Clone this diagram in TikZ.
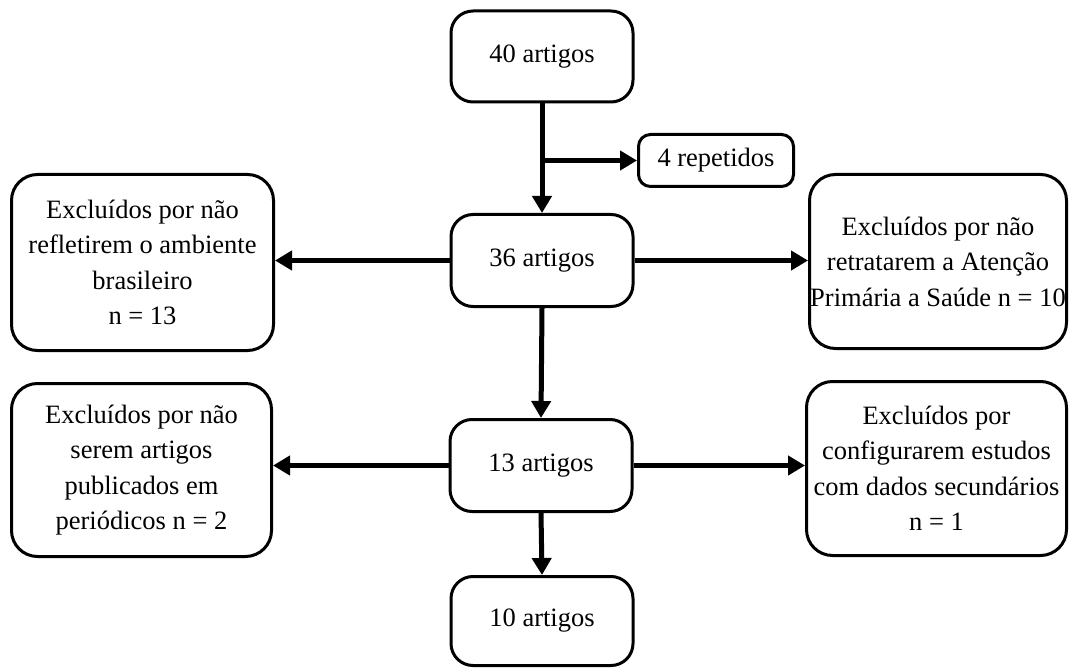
\documentclass[tikz,border=0pt]{standalone}
\usepackage{fontspec}
\setmainfont{Liberation Serif}
\usetikzlibrary{arrows.meta}
\begin{document}
\begin{tikzpicture}[x=1pt,y=-1pt,
  box/.style={draw=black,line width=3pt,rounded corners=22pt,align=center,inner sep=0pt,
    font=\fontsize{26.5}{35.5}\selectfont},
  bigbox/.style={box,rounded corners=26pt},
  smallbox/.style={box,rounded corners=12pt},
  arr/.style={line width=5pt,-{Triangle[length=17pt,width=19pt]}},
  ]
\useasboundingbox (0,0) rectangle (1070,668);
\node[box,minimum width=182pt,minimum height=91pt] (a40) at (542,56.5) {40 artigos};
\node[smallbox,minimum width=155pt,minimum height=52pt] (rep) at (716,160.5) {4 repetidos};
\node[box,minimum width=182pt,minimum height=92pt] (a36) at (542,260.5) {36 artigos};
\node[bigbox,minimum width=262pt,minimum height=176pt] (l1) at (142.5,262.5) {Excluídos por não\\refletirem o ambiente\\brasileiro\\n = 13};
\node[bigbox,minimum width=257pt,minimum height=174pt] (r1) at (938,261.5) {Excluídos por não\\retratarem a Atenção\\Primária a Saúde n = 10};
\node[box,minimum width=182pt,minimum height=92pt] (a13) at (541,465.5) {13 artigos};
\node[bigbox,minimum width=260pt,minimum height=173pt] (l2) at (141.5,470) {Excluídos por não\\serem artigos\\publicados em\\periódicos n = 2};
\node[bigbox,minimum width=260pt,minimum height=174pt] (r2) at (936.5,468.5) {Excluídos por\\configurarem estudos\\com dados secundários\\n = 1};
\node[box,minimum width=182pt,minimum height=89pt] (a10) at (542,621) {\raisebox{6pt}{10 artigos}};
\coordinate (br) at (a40.south |- rep.west);
\draw[arr] (a40.south) -- (a36.north);
\draw[arr] (br) -- (rep.west);
\draw[arr] (a36.west) -- (l1.east |- a36.west);
\draw[arr] (a36.east) -- (r1.west |- a36.east);
\draw[arr] (a36.south) -- (a13.north);
\draw[arr] (a13.west) -- (l2.east |- a13.west);
\draw[arr] (a13.east) -- (r2.west |- a13.east);
\draw[arr] (a13.south) -- (a10.north);
\end{tikzpicture}
\end{document}
